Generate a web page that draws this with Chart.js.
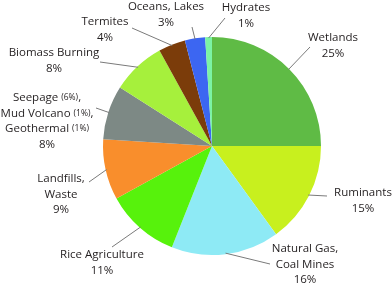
<!DOCTYPE html>
<html>
<head>
<meta charset="utf-8">
<script src="https://cdn.jsdelivr.net/npm/chart.js@4/dist/chart.umd.min.js"></script>
<style>
  body { margin: 0; background: #fff; }
  #wrap { width: 392px; height: 285px; }
</style>
</head>
<body>
<div id="wrap"><canvas id="pie" width="392" height="285"></canvas></div>
<script>
// methane sources, share of total
const sourceLabels = [
  ["Wetlands"],
  ["Ruminants"],
  ["Natural Gas,", "Coal Mines"],
  ["Rice Agriculture"],
  ["Landfills,", "Waste"],
  ["Seepage (6%),", "Mud Volcano (1%),", "Geothermal (1%)"],
  ["Biomass Burning"],
  ["Termites"],
  ["Oceans, Lakes"],
  ["Hydrates"]
];
const sourceShares = [25, 15, 16, 11, 9, 8, 8, 4, 3, 1];
const sliceColors = [
  "#5fbb45", "#c8f01e", "#8eeaf5", "#57f20c", "#f98e2c",
  "#7d8985", "#a6f03c", "#7b3c0a", "#3c66f2", "#7cf3a4"
];

// label placement relative to pie centre (px): leader end, first text line
const labelLayout = [
  { end: [98, -99],  text: [121, -108] },
  { end: [115, 50],  text: [151, 47] },
  { end: [58, 118],  text: [93, 103] },
  { end: [-100, 101], text: [-110, 109] },
  { end: [-123, 36], text: [-151, 33] },
  { end: [-116, -38], text: [-165, -48] },
  { end: [-112, -84], text: [-158, -93] },
  { end: [-80, -118], text: [-107, -124] },
  { end: [-20, -119], text: [-46, -139] },
  { end: [13, -128], text: [34, -138] }
];

const FONT = "'Open Sans', sans-serif";

function drawMixedLine(ctx, str, cx, y) {
  // parenthetical shares are set in a smaller size
  const parts = str.split(/(\(\d+%\))/).filter(p => p !== "");
  const big = "11.5px " + FONT, small = "8.5px " + FONT;
  let total = 0;
  for (const p of parts) {
    ctx.font = /^\(/.test(p) ? small : big;
    total += ctx.measureText(p).width;
  }
  let x = cx - total / 2;
  ctx.textAlign = "left";
  for (const p of parts) {
    ctx.font = /^\(/.test(p) ? small : big;
    ctx.fillText(p, x, y);
    x += ctx.measureText(p).width;
  }
}

const outerLabels = {
  id: "outerLabels",
  afterDraw(chart) {
    const ctx = chart.ctx;
    const meta = chart.getDatasetMeta(0);
    ctx.save();
    meta.data.forEach((arc, i) => {
      const cx = arc.x, cy = arc.y;
      const mid = (arc.startAngle + arc.endAngle) / 2;
      const r = arc.outerRadius - 1;
      const lay = labelLayout[i];
      ctx.strokeStyle = "#7a7a7a";
      ctx.lineWidth = 1;
      ctx.beginPath();
      ctx.moveTo(cx + Math.cos(mid) * r, cy + Math.sin(mid) * r);
      ctx.lineTo(cx + lay.end[0], cy + lay.end[1]);
      ctx.stroke();

      ctx.fillStyle = "#231f20";
      ctx.textBaseline = "middle";
      const lines = sourceLabels[i].concat([sourceShares[i] + "%"]);
      lines.forEach((ln, k) => {
        drawMixedLine(ctx, ln, cx + lay.text[0], cy + lay.text[1] + k * 15.5);
      });
    });
    ctx.restore();
  }
};

new Chart(document.getElementById("pie"), {
  type: "pie",
  data: {
    labels: sourceLabels.map(l => l.join(" ")),
    datasets: [{
      data: sourceShares,
      backgroundColor: sliceColors,
      borderWidth: 0,
      hoverOffset: 0
    }]
  },
  options: {
    responsive: false,
    animation: false,
    layout: { padding: { left: 103, right: 71, top: 37, bottom: 30 } },
    plugins: {
      legend: { display: false },
      tooltip: { enabled: false }
    }
  },
  plugins: [outerLabels]
});
</script>
</body>
</html>
